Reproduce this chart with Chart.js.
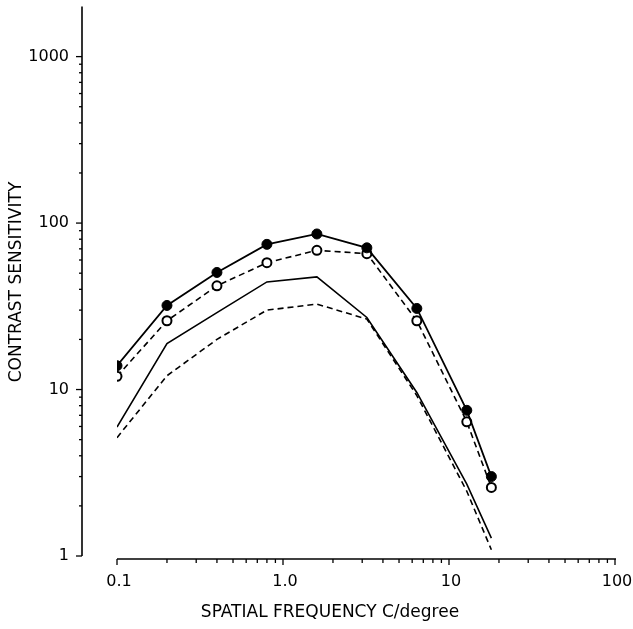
<!DOCTYPE html>
<html lang="en">
<head>
<meta charset="UTF-8">
<title>Contrast Sensitivity</title>
<style>
    *{box-sizing:border-box}
    html,body{margin:0;padding:0;background:#fff}
    #wrap{width:633px;height:629px}
</style>
<script src="https://cdn.jsdelivr.net/npm/chart.js@4/dist/chart.umd.min.js"></script>
</head>
<body>
<div id="wrap"><canvas id="csf-chart" width="633" height="629"></canvas></div>
<script>
    // Spatial frequency, cycles per degree
    const frequencies = [0.1, 0.2, 0.4, 0.8, 1.6, 3.2, 6.4, 12.8, 18];

    // Contrast sensitivity
    const filledPoints = [13.9, 32, 50.5, 74.5, 86, 71, 30.7, 7.5, 3.0];
    const openPoints = [12.0, 25.9, 42, 57.8, 68.6, 65.5, 25.9, 6.4, 2.58];
    const solidCurve = [5.95, 18.9, 29, 44.3, 47.5, 27.1, 9.6, 2.7, 1.28];
    const dashedCurve = [5.14, 12.1, 20, 30.0, 32.6, 26.5, 9.2, 2.45, 1.09];

    // Axes
    const xTickValues = [0.1, 1, 10, 100];
    const xTickLabels = ['0.1', '1.0', '10', '100'];
    const yTickValues = [1, 10, 100, 1000];
    const yTickLabels = ['1', '10', '100', '1000'];
    const xTitle = 'SPATIAL FREQUENCY C/degree';
    const yTitle = 'CONTRAST SENSITIVITY';

    const TICK_FONT = '16px "DejaVu Sans", sans-serif';
    const TITLE_FONT = '17px "DejaVu Sans", sans-serif';

    function toPoints(values) {
        return frequencies.map((f, i) => ({ x: f, y: values[i] }));
    }

    // Draw the offset axes by hand, positions come from the chart scales
    const axesPlugin = {
        id: 'offsetAxes',
        afterDraw(chart) {
            const ctx = chart.ctx;
            const xs = chart.scales.x;
            const ys = chart.scales.y;
            const axisY = chart.chartArea.bottom + 3;
            const axisX = xs.getPixelForValue(0.1) - 35;

            ctx.save();
            ctx.strokeStyle = '#000';
            ctx.fillStyle = '#000';
            ctx.lineWidth = 1.6;

            // y axis
            ctx.beginPath();
            ctx.moveTo(axisX, ys.getPixelForValue(2000));
            ctx.lineTo(axisX, ys.getPixelForValue(1));
            ctx.stroke();
            ctx.lineWidth = 1.3;
            for (let d = 1; d <= 1000; d *= 10) {
                for (let m = 1; m <= 9; m++) {
                    const v = d * m;
                    if (v > 1000) break;
                    const py = ys.getPixelForValue(v);
                    const len = m == 1 ? 6 : 3;
                    ctx.beginPath();
                    ctx.moveTo(axisX, py);
                    ctx.lineTo(axisX - len, py);
                    ctx.stroke();
                }
            }

            // x axis
            ctx.lineWidth = 1.6;
            ctx.beginPath();
            ctx.moveTo(xs.getPixelForValue(0.1), axisY);
            ctx.lineTo(xs.getPixelForValue(100) + 1, axisY);
            ctx.stroke();
            ctx.lineWidth = 1.3;
            for (let d = 0.1; d <= 100; d *= 10) {
                for (let m = 1; m <= 9; m++) {
                    const v = d * m;
                    if (v > 100.01) break;
                    const px = xs.getPixelForValue(v);
                    const len = m == 1 ? 6 : 4;
                    ctx.beginPath();
                    ctx.moveTo(px, axisY);
                    ctx.lineTo(px, axisY + len);
                    ctx.stroke();
                }
            }

            // tick labels
            ctx.font = TICK_FONT;
            ctx.textBaseline = 'middle';
            ctx.textAlign = 'right';
            yTickValues.forEach((v, i) => {
                ctx.fillText(yTickLabels[i], axisX - 13, ys.getPixelForValue(v));
            });
            ctx.textAlign = 'center';
            xTickValues.forEach((v, i) => {
                ctx.fillText(xTickLabels[i], xs.getPixelForValue(v) + 2, axisY + 23);
            });

            // axis titles
            ctx.font = TITLE_FONT;
            ctx.fillText(xTitle, 330, 613);
            ctx.translate(17, 282);
            ctx.rotate(-Math.PI / 2);
            ctx.fillText(yTitle, 0, 0);
            ctx.restore();
        }
    };

    const chart = new Chart(document.getElementById('csf-chart'), {
        type: 'line',
        data: {
            datasets: [
                {
                    label: 'filled',
                    data: toPoints(filledPoints),
                    borderColor: '#000',
                    borderWidth: 1.8,
                    pointRadius: 5,
                    pointBackgroundColor: '#000',
                    pointBorderColor: '#000',
                    pointBorderWidth: 1
                },
                {
                    label: 'open',
                    data: toPoints(openPoints),
                    borderColor: '#000',
                    borderWidth: 1.6,
                    borderDash: [6, 4],
                    pointRadius: 4.5,
                    pointBackgroundColor: '#fff',
                    pointBorderColor: '#000',
                    pointBorderWidth: 2
                },
                {
                    label: 'solid',
                    data: toPoints(solidCurve),
                    borderColor: '#000',
                    borderWidth: 1.6,
                    pointRadius: 0
                },
                {
                    label: 'dashed',
                    data: toPoints(dashedCurve),
                    borderColor: '#000',
                    borderWidth: 1.6,
                    borderDash: [6, 4],
                    pointRadius: 0
                }
            ]
        },
        options: {
            responsive: false,
            animation: false,
            devicePixelRatio: 1,
            layout: { padding: { left: 117, right: 18, top: 5, bottom: 73 } },
            elements: { line: { tension: 0, fill: false } },
            plugins: {
                legend: { display: false },
                tooltip: { enabled: false }
            },
            scales: {
                x: { type: 'logarithmic', min: 0.1, max: 100, display: false },
                y: { type: 'logarithmic', min: 1, max: 2000, display: false }
            }
        },
        plugins: [axesPlugin]
    });
</script>
</body>
</html>
